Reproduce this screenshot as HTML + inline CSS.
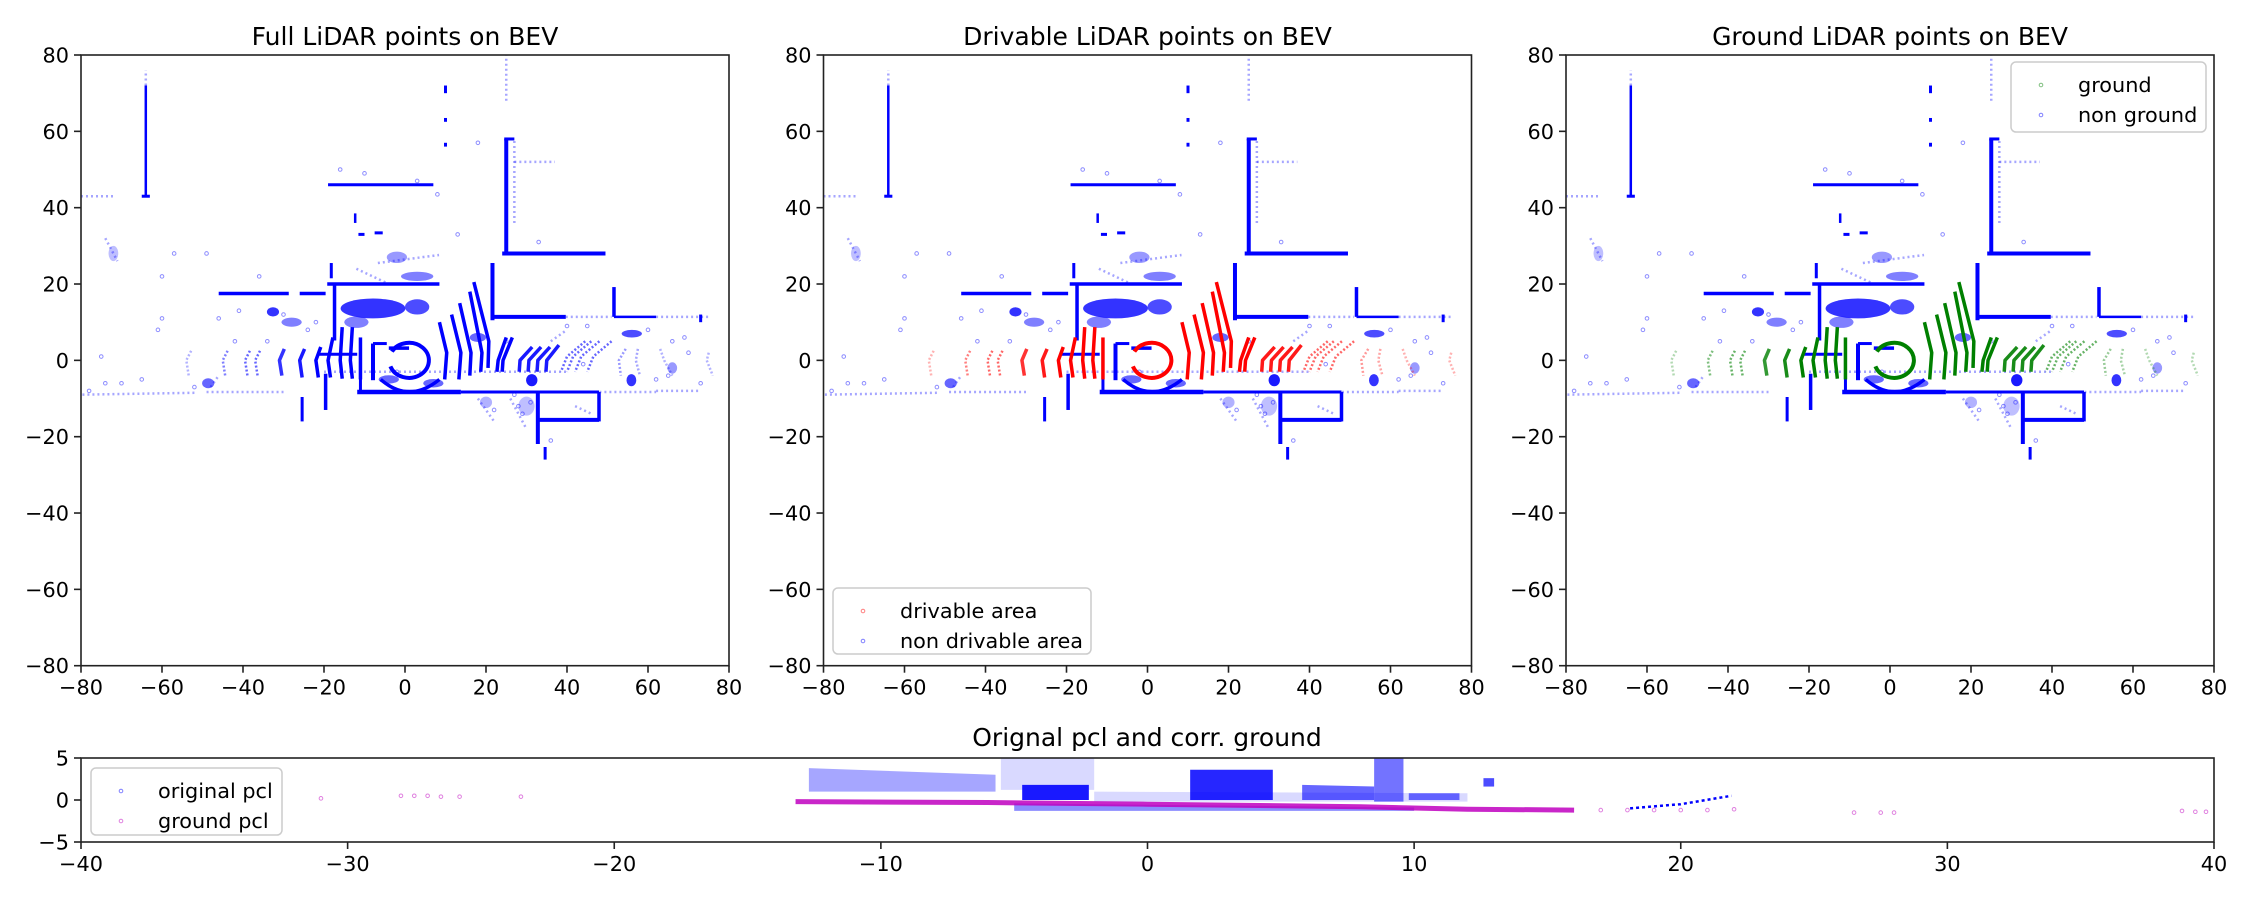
<!DOCTYPE html>
<html><head><meta charset="utf-8"><style>
body{margin:0;background:#fff}
svg{display:block;font-family:"DejaVu Sans","Liberation Sans",sans-serif}
</style></head><body>
<svg id="fig" width="2250" height="900" viewBox="0 0 2250 900" xmlns="http://www.w3.org/2000/svg"></svg>
<script>
// ---- BEV data (data coordinates, metres) ----
const bevXTicks = [-80,-60,-40,-20,0,20,40,60,80];
const bevYTicks = [-80,-60,-40,-20,0,20,40,60,80];
// solid walls [x1,y1,x2,y2,width]
const wallSegs = [
 [-64,43,-64,72,2.5],[-65,43,-63,43,3],[-19,46,7,46,3],[25,28,25,58,4],[24.5,58,27,58,3],
 [24,28,49.5,28,4],[21.6,10.5,21.6,25.5,4],[21.6,11.4,39.7,11.4,4],[51.6,11.4,51.6,19.2,3.5],
 [-46,17.5,-28.7,17.5,3.5],[-26,17.5,-19.6,17.5,3.5],[-19.2,20,8.5,20,3.5],[-17.4,5.2,-17.4,20,3.5],
 [-11.8,-8.3,13.8,-8.3,4.5],[13.8,-8.3,47.9,-8.3,3],[32.8,-8.3,32.8,-21.9,4],[32.8,-15.6,47.9,-15.6,4],
 [47.9,-8.3,47.9,-16,3.5],[34.6,-22.7,34.6,-26,3],[-25.4,-9.6,-25.4,-16,3],[-19.6,-3.5,-19.6,-13,3.5],
 [-21.7,1.6,-11.8,1.6,3],[-11,2,-11,-8,3],[-7.9,4.4,-7.9,-5.2,4],[-7.9,4.4,-4.5,4.4,3],[-4,3.2,1,3.2,3.5],
 [51.6,11.4,62,11.4,2.5],[73,12,73,10,3],[10,72,10,70,3],[10,63.5,10,62.5,3],[10,57,10,56,3],
 [-11.5,33,-10,33,3],[-7.5,33.4,-5.5,33.4,3],[-12.3,36,-12.3,38.5,2.5],[-18.2,21.5,-18.2,25.5,3]
];
// faint/dotted walls [x1,y1,x2,y2]
const faintSegs = [
 [-80,43,-72,43],[25,68,25,80],[-64,72,-64,76],[27,36,27,58],[27,52,37,52],[-49,-8.3,-30,-8.3],
 [48,-8.3,62,-8.3],[62,-8,73,-8],[39.7,11.4,51,11.4],[62,11.4,75,11.4],[-20,-3,40,-3],[-6.7,25.5,8.4,27.6],
 [-52,-8.5,-80,-9],[-48,-7,-46,-4],[-74,32,-71,26],[-12,24,-4,20],[18,-10,22,-16],[26,-10,30,-18],
 [36,5,40,8],[42,-12,46,-14]
];
// near-ground ring arcs [xTop,yTop,xMid,yMid,xBot,yBot,strength]
const ringArcs = [
 [-52.8,2.5,-54,0,-53.4,-4,0.3],[-43.8,2.5,-45,0,-44.4,-4,0.5],[-38.3,2.5,-39.5,0,-38.9,-4,0.6],
 [-35.8,2.5,-37,0,-36.4,-4,0.6],[-29.8,3,-31,0,-30.4,-4,0.8],[-24.8,3,-26,0,-25.4,-4.5,0.9],
 [-20.8,3.5,-22,0,-21.4,-4.5,1],[-17.8,6,-19,0,-18.4,-4.5,1],[-15.5,8.7,-16,0,-15.5,-4.8,1],
 [-13,8.7,-13.5,0,-13,-4.8,1],[-11,6,-11,0,-11,-5,1],
 [8.5,10,10.3,2,9.8,-5,1],[11.5,12,13.8,2,13.3,-5,1],[13.5,15,16.3,2,16,-4,1],[16,18,19,2,18.7,-3,1],
 [17,20.5,20.7,5,20.5,-2,1],[25,6,23,0,22.7,-3,1],[26.5,6,24.2,0,24,-3,1],
 [31.4,3.5,28.4,0,28.2,-3,0.9],[33.6,3.5,30.6,0,30.4,-3,0.9],[35.8,3.5,32.8,0,32.6,-3,0.9],
 [38,4,35,0,34.8,-3,0.9],[44.5,5,40,1,38.5,-3,0.6],[46,5,41.5,1,40,-3,0.6],[48,5,43.5,1,42,-3,0.6],
 [51,5,46.5,1,45,-3,0.6],[54.5,3,52.8,0,53.3,-4,0.4],[57.5,3,57,0,58,-4,0.35],[63,3,64,0,66,-4,0.3],
 [75,2,74.5,0,76,-4,0.3]
];
// dense blobs [cx,cy,rx,ry,opacity]
const blobs = [
 [-7.9,13.6,8,2.6,0.8],[3,14,3,2,0.7],[-32.6,12.7,1.5,1.2,0.8],[-48.6,-6,1.5,1.3,0.6],[31.3,-5.2,1.4,1.6,0.9],
 [55.9,-5.2,1.2,1.6,0.8],[-12,10,3,1.5,0.5],[30,-12,2,2.5,0.25],[20,-11,1.5,1.5,0.3],[-2,27,2.5,1.5,0.4],
 [3,22,4,1.2,0.5],[18,6,2,1.2,0.6],[56,7,2.5,1,0.7],[-72,28,1.2,2,0.25],[7,-6,2.5,1.1,0.6],[-4,-5,2.5,1.1,0.6],
 [66,-2,1.2,1.5,0.4],[-28,10,2.5,1.2,0.5]
];
// isolated points [x,y]
const dots = [
 [3,47],[-10,49],[-16,50],[8,43.5],[-60,22],[-60,11],[-61,8],[-49,28],[-57,28],[-36,22],[-41,13],[-46,11],
 [-74,-6],[-70,-6],[-75,1],[-78,-8],[18,57],[33,31],[25,5],[44,-1],[69,6],[70,2],[73,-6],[-2,-3],
 [13,33],[-65,-5],[-52,-7],[36,-21],[62,-5],[65,-4],[28,-12],[29,-14],[31,-11],[27,-9],[22,-13],
 [-24,8],[-22,10],[-30,12],[-34,5],[40,9],[45,9],[60,8],[66,5],[-42,5]
];
// ---- side-view data ----
const sideXTicks = [-40,-30,-20,-10,0,10,20,30,40];
const sideYTicks = [-5,0,5];
// blue blocks [x1,x2,yTopLeft,yTopRight,yBottom,opacity]
const pclBlocks = [
 [-12.7,-5.7,3.8,3.0,1.0,0.35],[-5.5,-2.0,5,5,1.2,0.15],[-4.7,-2.2,1.8,1.8,0.0,0.9],
 [1.6,4.7,3.6,3.6,0,0.85],[5.8,8.5,1.8,1.6,0,0.6],[8.5,9.6,5,5,-0.2,0.55],[-2,12,1,0.8,-0.2,0.15],
 [9.8,11.7,0.8,0.8,0,0.55],[-5,10,-0.4,-0.9,-1.3,0.45],[12.6,13,2.6,2.6,1.6,0.7]
];
const groundLineX = [-13.2,-6,0,8,12,16];
const groundLineY = [-0.2,-0.3,-0.5,-0.8,-1.1,-1.2];
const groundDotsX = [-31,-28,-27.5,-27,-26.5,-25.8,-23.5,17,18,19,20,21,22,26.5,27.5,28,38.8,39.3,39.7];
const groundDotsY = [0.2,0.5,0.5,0.5,0.4,0.4,0.4,-1.2,-1.2,-1.2,-1.2,-1.2,-1.1,-1.5,-1.5,-1.5,-1.3,-1.4,-1.4];
const tailX = [18.1,20,21.9];
const tailY = [-1.0,-0.5,0.5];

const NS = "http://www.w3.org/2000/svg";
const svg = document.getElementById('fig');
function mk(tag, attrs, parent){
  const e = document.createElementNS(NS, tag);
  for (const k in attrs) e.setAttribute(k, attrs[k]);
  (parent||svg).appendChild(e); return e;
}
const panels = [
 {x0:81,x1:729,y0:55,y1:665.7,title:"Full LiDAR points on BEV",ring:"#0000ff",name:"full-lidar"},
 {x0:823.5,x1:1471.5,y0:55,y1:665.7,title:"Drivable LiDAR points on BEV",ring:"#ff0000",name:"drivable-lidar"},
 {x0:1566,x1:2214,y0:55,y1:665.7,title:"Ground LiDAR points on BEV",ring:"#008000",name:"ground-lidar"}
];
function sx(p,x,lo,hi){return p.x0+(x-lo)/(hi-lo)*(p.x1-p.x0);}
function sy(p,y,lo,hi){return p.y1-(y-lo)/(hi-lo)*(p.y1-p.y0);}
const fmt = v => (v<0?"\u2212"+(-v):""+v);

function axesFrame(p, xt, yt, xlo, xhi, ylo, yhi, nm){
  const g = mk('g',{});
  
  
  mk('rect',{x:p.x0,y:p.y0,width:p.x1-p.x0,height:p.y1-p.y0,fill:'none',stroke:'#222','stroke-width':1.6},g);
  xt.forEach(v=>{
    const x = sx(p,v,xlo,xhi);
    mk('line',{x1:x,x2:x,y1:p.y1,y2:p.y1+7,stroke:'#222','stroke-width':1.6},g);
    const t = mk('text',{x:x,y:p.y1+29,'text-anchor':'middle','font-size':20.8,fill:'#000'},g);
    t.textContent = fmt(v);
    
    
  });
  yt.forEach(v=>{
    const y = sy(p,v,ylo,yhi);
    mk('line',{x1:p.x0-7,x2:p.x0,y1:y,y2:y,stroke:'#222','stroke-width':1.6},g);
    const t = mk('text',{x:p.x0-12,y:y+7.5,'text-anchor':'end','font-size':20.8,fill:'#000'},g);
    t.textContent = fmt(v);
    
    
  });
}

panels.forEach((p,pi)=>{
  const X = v=>sx(p,v,-80,80), Y = v=>sy(p,v,-80,80);
  const g = mk('g',{});
  
  
  faintSegs.forEach(s=>{
    const l = mk('line',{x1:X(s[0]),y1:Y(s[1]),x2:X(s[2]),y2:Y(s[3]),stroke:'#0000ff','stroke-opacity':0.35,'stroke-width':2.5,'stroke-dasharray':'2 3'},g);
    
  });
  blobs.forEach(b=>{
    const e = mk('ellipse',{cx:X(b[0]),cy:Y(b[1]),rx:b[2]*4.05,ry:b[3]*3.81,fill:'#0000ff','fill-opacity':b[4]},g);
    
  });
  dots.forEach(d=>{
    const c = mk('circle',{cx:X(d[0]),cy:Y(d[1]),r:1.8,fill:'none',stroke:'#0000ff','stroke-opacity':0.45,'stroke-width':1},g);
    
  });
  wallSegs.forEach(s=>{
    const l = mk('line',{x1:X(s[0]),y1:Y(s[1]),x2:X(s[2]),y2:Y(s[3]),stroke:'#0000ff','stroke-width':s[4]},g);
    
  });
  const cx = X(1), cy = Y(0);
  const u = mk('path',{d:`M ${X(-6)} ${Y(-5)} Q ${cx} ${Y(-11.5)} ${X(8.5)} ${Y(-5)}`,fill:'none',stroke:'#0000ff','stroke-width':3.5},g);
  
  ringArcs.forEach(a=>{
    const op = a[6];
    const pl = mk('polyline',{points:`${X(a[0])},${Y(a[1])} ${X(a[2])},${Y(a[3])} ${X(a[4])},${Y(a[5])}`,fill:'none',stroke:p.ring,'stroke-opacity':op,'stroke-width':op>0.7?3.5:2.5,'stroke-dasharray':op>0.7?'none':'2 2','stroke-linejoin':'round'},g);
    
  });
  // ego ring (C shape, open to the lower-left)
  const rx = 4.9*4.05, ry = 4.6*3.81;
  const a0 = 200*Math.PI/180, a1 = 150*Math.PI/180;
  const ring = mk('path',{d:`M ${cx+rx*Math.cos(a0)} ${cy-ry*Math.sin(a0)} A ${rx} ${ry} 0 1 0 ${cx+rx*Math.cos(a1)} ${cy-ry*Math.sin(a1)}`,fill:'none',stroke:p.ring,'stroke-width':4},g);
  
  axesFrame(p,bevXTicks,bevYTicks,-80,80,-80,80,p.name);
  const t = mk('text',{x:(p.x0+p.x1)/2,y:45,'text-anchor':'middle','font-size':25,fill:'#000'});
  t.textContent = p.title;
  
  
});

function legend(x,y,w,h,items,nm){
  const g = mk('g',{});
  
  
  mk('rect',{x:x,y:y,width:w,height:h,rx:5,fill:'#fff','fill-opacity':0.85,stroke:'#ccc','stroke-width':1.5},g);
  items.forEach((it,i)=>{
    const yy = y+23+i*30;
    mk('circle',{cx:x+30,cy:yy,r:1.8,fill:'none',stroke:it[1],'stroke-opacity':0.5},g);
    const t = mk('text',{x:x+67,y:yy+7,'font-size':20.8,fill:'#000'},g);
    t.textContent = it[0];
    
    
  });
}
legend(833,588,258,66,[["drivable area","#ff0000"],["non drivable area","#0000ff"]],'drivable-legend');
legend(2011,62,195,70,[["ground","#008000"],["non ground","#0000ff"]],'ground-legend');

// ---- side view ----
const sp = {x0:81,x1:2214,y0:758,y1:842};
const SX = v=>sx(sp,v,-40,40), SY = v=>sy(sp,v,-5,5);
const sg = mk('g',{});


pclBlocks.forEach(b=>{
  const pg = mk('polygon',{points:`${SX(b[0])},${SY(b[2])} ${SX(b[1])},${SY(b[3])} ${SX(b[1])},${SY(b[4])} ${SX(b[0])},${SY(b[4])}`,fill:'#0000ff','fill-opacity':b[5]},sg);
  
});
const tl = mk('polyline',{points:tailX.map((x,i)=>SX(x)+','+SY(tailY[i])).join(' '),fill:'none',stroke:'#0000ff','stroke-width':2.5,'stroke-dasharray':'3 3'},sg);

const gl = mk('polyline',{points:groundLineX.map((x,i)=>SX(x)+','+SY(groundLineY[i])).join(' '),fill:'none',stroke:'#bf00bf','stroke-width':5,'stroke-opacity':0.85},sg);

groundDotsX.forEach((x,i)=>{
  const c = mk('circle',{cx:SX(x),cy:SY(groundDotsY[i]),r:1.8,fill:'none',stroke:'#bf00bf','stroke-opacity':0.5},sg);
  
});
axesFrame(sp,sideXTicks,sideYTicks,-40,40,-5,5,'side-view');
const st = mk('text',{x:1147,y:746,'text-anchor':'middle','font-size':25,fill:'#000'});
st.textContent = "Orignal pcl and corr. ground";


legend(91,768,191,67,[["original pcl","#0000ff"],["ground pcl","#bf00bf"]],'side-view-legend');
</script>
</body></html>
